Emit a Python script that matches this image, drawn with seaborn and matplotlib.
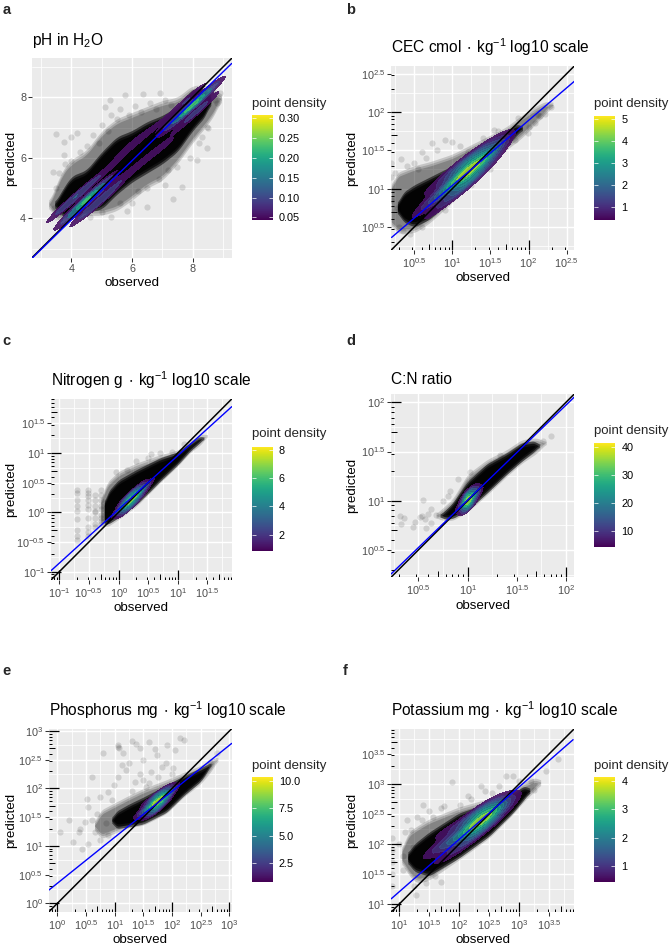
import numpy as np
import pandas as pd
import matplotlib
matplotlib.use("Agg")
import matplotlib.pyplot as plt
from matplotlib.colors import ListedColormap
import seaborn as sns

W, H = 671, 947

# ---- panel a: pH
a_band_x = [3.25, 3.5, 3.7, 4.0, 4.5, 5.0, 5.5, 6.0, 6.5, 7.0, 7.5, 8.0, 8.5, 8.8, 8.95]
a_band_lo = [4.4, 3.95, 3.9, 3.95, 4.1, 4.1, 4.25, 4.6, 5.0, 5.25, 5.8, 6.5, 7.1, 7.55, 7.95]
a_band_hi = [4.5, 5.1, 5.6, 5.95, 6.25, 6.9, 7.3, 7.5, 7.7, 7.9, 8.0, 8.4, 8.4, 8.25, 8.05]
a_dense_x = [3.45, 3.7, 4.0, 4.5, 5.0, 5.5, 6.0, 6.5, 7.0, 7.5, 8.0, 8.45, 8.6]
a_dense_lo = [4.4, 4.05, 4.0, 4.2, 4.3, 4.8, 5.2, 5.5, 5.8, 6.2, 6.9, 7.4, 7.85]
a_dense_hi = [4.5, 4.95, 5.4, 5.6, 6.2, 6.7, 6.9, 7.2, 7.4, 7.7, 8.3, 8.3, 8.0]
a_obs = [3.48, 3.74, 3.99, 4.2, 3.38, 3.76, 3.41, 3.5, 5.27, 5.77, 5.11, 6.37, 6.92, 7.36, 5.82, 6.48, 8.46, 8.13,
         7.64, 7.09, 8.9, 8.74, 8.79, 8.46, 8.3, 4.3, 4.5, 4.7, 4.9, 5.0, 5.2, 5.3, 5.5, 5.6, 5.9, 6.1, 6.3, 6.6,
         6.8, 7.1, 7.3, 3.6, 3.8, 4.0, 3.5, 4.6, 5.0, 5.3, 5.6, 6.0, 6.2, 6.5, 6.9, 7.2, 7.5, 7.9, 8.2, 8.5]
a_pred = [6.78, 6.53, 6.7, 6.81, 5.53, 6.09, 4.33, 4.05, 7.91, 8.08, 7.67, 8.1, 8.13, 4.64, 4.25, 4.39, 6.31, 5.93,
          5.05, 5.1, 8.13, 7.91, 7.8, 7.03, 6.7, 6.2, 6.4, 6.75, 6.5, 7.1, 6.9, 7.4, 7.3, 7.6, 7.4, 7.7, 7.5, 7.8,
          7.6, 7.9, 7.75, 5.5, 5.8, 5.9, 5.0, 4.05, 4.2, 4.05, 4.5, 4.5, 4.9, 5.0, 5.3, 5.6, 5.7, 6.0, 6.5, 7.0]
a_core_x = [3.9, 4.3, 4.3, 4.7, 4.7, 5.0, 4.5, 5.3, 5.3, 5.9, 5.9, 6.5, 6.5, 7.1, 7.1, 7.5, 7.8, 8.0, 8.2, 8.0, 7.75, 8.3]
a_core_y = [4.5, 4.35, 4.85, 4.4, 4.85, 4.6, 4.6, 5.7, 5.1, 6.4, 5.5, 6.8, 6.0, 7.1, 6.4, 7.2, 7.9, 7.75, 7.9, 7.4, 7.55, 7.7]
a_core_w = [8, 9, 9, 9, 9, 7, 24, 4, 3, 4, 4, 4, 4, 3, 3, 4, 7, 26, 6, 6, 6, 4]
a_fit_x = [2.7, 9.29]
a_fit_y = [2.68, 9.12]

# ---- panel b: CEC
b_band_x = [0.2, 0.25, 0.5, 0.7, 1.0, 1.3, 1.5, 1.7, 1.9, 2.1, 2.25, 2.32]
b_band_lo = [0.55, 0.42, 0.42, 0.55, 0.82, 1.1, 1.28, 1.5, 1.65, 1.85, 2.0, 2.08]
b_band_hi = [1.0, 1.2, 1.3, 1.35, 1.45, 1.6, 1.7, 1.8, 1.95, 2.08, 2.15, 2.12]
b_dense_x = [0.28, 0.35, 0.5, 0.7, 1.0, 1.3, 1.5, 1.7, 1.85, 1.92]
b_dense_lo = [0.7, 0.57, 0.5, 0.6, 0.85, 1.13, 1.33, 1.55, 1.7, 1.77]
b_dense_hi = [0.8, 0.95, 1.05, 1.15, 1.3, 1.5, 1.65, 1.75, 1.85, 1.81]
b_obs = [0.33, 0.6, 0.9, 1.55, 1.0, 0.73, 0.2, 0.2, 0.2, 0.45, 2.3, 2.21, 2.08, 1.86, 2.12, 1.99, 1.82,
         0.25, 0.3, 0.4, 0.5, 0.55, 0.65, 0.8, 1.1, 1.2, 1.4, 1.6, 0.28, 0.35, 0.6, 0.9, 1.25, 1.5, 2.0, 2.15]
b_pred = [1.39, 1.48, 1.63, 1.77, 1.61, 1.59, 1.33, 1.15, 0.85, 0.41, 2.07, 1.98, 1.85, 1.92, 1.96, 1.72, 1.63,
          1.2, 0.5, 1.3, 1.33, 1.25, 1.4, 1.5, 1.55, 1.48, 1.66, 1.75, 0.75, 0.45, 0.5, 0.72, 1.05, 1.25, 1.8, 1.95]
b_core_x = [0.55, 0.55, 0.55, 0.75, 0.75, 0.75, 0.95, 0.95, 0.95, 1.15, 1.15, 1.15, 1.3, 1.3, 1.3, 1.5, 1.5, 1.5, 1.68, 1.68, 1.68]
b_core_y = [0.53, 0.7, 0.87, 0.69, 0.86, 1.03, 0.87, 1.03, 1.19, 1.04, 1.18, 1.32, 1.17, 1.3, 1.43, 1.35, 1.46, 1.57, 1.53, 1.62, 1.71]
b_core_w = [1, 2, 1, 1.5, 3, 1.5, 3, 6, 3, 5, 10, 5, 4.5, 9, 4.5, 2.5, 5, 2.5, 1, 2, 1]
b_fit_x = [0.204, 2.6]
b_fit_y = [0.364, 2.4]

# ---- panel c: Nitrogen
c_band_x = [-0.3, -0.2, 0.0, 0.3, 0.5, 0.7, 1.0, 1.2, 1.4, 1.5]
c_band_lo = [-0.2, -0.25, -0.12, 0.1, 0.3, 0.5, 0.78, 1.0, 1.15, 1.29]
c_band_hi = [0.2, 0.5, 0.69, 0.83, 0.9, 0.97, 1.05, 1.2, 1.32, 1.31]
c_dense_x = [-0.24, -0.18, 0.0, 0.3, 0.5, 0.7, 1.0, 1.2, 1.38, 1.44]
c_dense_lo = [-0.2, -0.2, -0.09, 0.13, 0.32, 0.52, 0.8, 1.02, 1.18, 1.24]
c_dense_hi = [0.15, 0.35, 0.55, 0.72, 0.82, 0.92, 1.02, 1.17, 1.29, 1.26]
c_obs = [-0.7, -0.7, -0.7, -0.7, -0.7, -0.7, -0.7, -0.7, -0.7, -0.52, -0.52, -0.52, -0.52, -0.52, -0.52, -0.52, -0.52,
         -0.52, -0.52, -0.39, -0.39, -0.39, -0.39, -0.39, -0.39, -0.39, -0.39, -0.3, -0.3, -0.3, -0.3, -0.3, -0.3,
         -0.3, -0.3, -0.3, 0.15, 0.3, 0.55, 0.7, 0.9, 0.5, -0.05, 1.1]
c_pred = [-0.47, -0.4, -0.3, -0.12, 0.03, 0.1, 0.2, 0.33, 0.37, -0.4, -0.33, -0.25, -0.1, 0.05, 0.13, 0.2, 0.27,
          0.33, 0.37, -0.25, -0.2, -0.1, 0.0, 0.03, 0.1, 0.2, 0.3, -0.2, -0.15, -0.1, -0.05, 0.05, 0.1, 0.2, 0.3,
          0.38, 0.72, 0.87, 0.98, 1.0, 1.02, 0.92, 0.68, 1.15]
c_core_x = [-0.1, -0.1, -0.1, 0.05, 0.05, 0.05, 0.2, 0.2, 0.2, 0.35, 0.35, 0.35, 0.5, 0.5, 0.5, 0.65, 0.65, 0.65]
c_core_y = [-0.16, -0.07, 0.02, -0.03, 0.07, 0.17, 0.1, 0.2, 0.3, 0.24, 0.34, 0.44, 0.38, 0.47, 0.56, 0.52, 0.6, 0.68]
c_core_w = [0.7, 1.5, 0.7, 2.5, 5, 2.5, 5, 10, 5, 3, 6, 3, 1.2, 2.5, 1.2, 0.5, 1, 0.5]
c_fit_x = [-1.14, 1.91]
c_fit_y = [-0.983, 1.78]

# ---- panel d: C:N ratio
d_band_x = [0.68, 0.74, 0.85, 1.0, 1.2, 1.4, 1.55, 1.7, 1.8]
d_band_lo = [0.83, 0.8, 0.8, 0.885, 1.06, 1.25, 1.38, 1.48, 1.58]
d_band_hi = [0.87, 0.92, 1.02, 1.27, 1.42, 1.52, 1.62, 1.64, 1.6]
d_dense_x = [0.72, 0.77, 0.85, 1.0, 1.2, 1.4, 1.55, 1.68, 1.73]
d_dense_lo = [0.84, 0.81, 0.82, 0.9, 1.08, 1.27, 1.4, 1.5, 1.55]
d_dense_hi = [0.86, 0.9, 0.98, 1.2, 1.38, 1.49, 1.59, 1.61, 1.57]
d_obs = [0.55, 0.63, 0.82, 0.31, 0.35, 0.32, 0.45, 0.47, 0.52, 0.57, 0.58, 0.63, 0.54, 0.6, 1.85, 1.77, 0.9, 1.02, 1.33, 0.68, 0.75, 0.8]
d_pred = [1.01, 0.92, 1.1, 0.84, 0.82, 0.76, 0.73, 0.78, 0.83, 0.81, 0.72, 0.77, 0.85, 0.87, 1.66, 1.61, 1.22, 1.29, 1.46, 0.86, 1.0, 1.05]
d_core_x = [0.9, 0.9, 0.9, 1.0, 1.0, 1.0, 1.08, 1.08, 1.08, 1.17, 1.17, 1.17]
d_core_y = [0.84, 0.91, 0.98, 0.93, 1.0, 1.07, 1.0, 1.07, 1.14, 1.08, 1.14, 1.2]
d_core_w = [1, 2, 1, 5, 10, 5, 2, 4, 2, 0.5, 1, 0.5]
d_fit_x = [0.222, 2.085]
d_fit_y = [0.255, 2.054]

# ---- panel e: Phosphorus
e_band_x = [0.65, 0.75, 1.0, 1.25, 1.5, 1.9, 2.2, 2.5, 2.7, 2.8]
e_band_lo = [1.3, 1.12, 1.22, 1.32, 1.36, 1.56, 1.85, 2.08, 2.32, 2.5]
e_band_hi = [1.4, 1.62, 1.75, 1.88, 2.0, 2.15, 2.28, 2.4, 2.52, 2.55]
e_dense_x = [0.95, 1.02, 1.25, 1.5, 1.9, 2.2, 2.5, 2.62, 2.68]
e_dense_lo = [1.42, 1.3, 1.33, 1.38, 1.58, 1.87, 2.12, 2.3, 2.42]
e_dense_hi = [1.48, 1.6, 1.73, 1.85, 2.06, 2.22, 2.36, 2.42, 2.45]
e_obs = [1.06, 1.06, 1.07, 1.3, 1.38, 1.59, 2.14, 2.2, 0.8, 0.6, 1.15, 1.5, 1.73, 1.91, 2.05, 1.12, 1.44, 1.64, 1.82,
         2.02, 0.98, 0.89, 0.52, 0.74, 0.54, 0.21, 0.05, 0.27, 0.43, 0.54, 0.37, 0.48, 0.66, 0.74, 0.88, 2.78, 2.66,
         1.55, 1.06, 1.35, 1.25, 1.45, 1.7, 1.9, 1.2, 1.5, 1.75, 0.6, 0.7, 0.85, 0.95, 0.4, 1.3, 1.6, 2.0]
e_pred = [2.73, 2.76, 2.71, 2.83, 2.78, 2.81, 2.88, 2.85, 2.61, 2.2, 2.61, 2.49, 2.58, 2.75, 2.67, 2.41, 2.26, 2.29, 2.38,
          2.35, 2.06, 1.94, 1.81, 1.85, 1.68, 1.45, 1.25, 1.07, 0.94, 1.04, 1.25, 1.42, 1.25, 1.1, 1.19, 2.61, 2.46,
          2.03, 2.2, 2.12, 2.45, 2.7, 2.68, 2.45, 2.32, 2.15, 2.2, 1.45, 1.55, 1.4, 1.8, 1.3, 1.95, 2.1, 2.25]
e_core_x = [1.3, 1.3, 1.3, 1.5, 1.5, 1.5, 1.7, 1.7, 1.7, 1.85, 1.85, 1.85, 2.0, 2.0, 2.0, 2.15, 2.15, 2.15]
e_core_y = [1.35, 1.47, 1.59, 1.48, 1.6, 1.72, 1.61, 1.73, 1.85, 1.74, 1.85, 1.96, 1.87, 1.97, 2.07, 2.02, 2.1, 2.18]
e_core_w = [0.7, 1.5, 0.7, 2, 4, 2, 5, 10, 5, 3.5, 7, 3.5, 1.2, 2.5, 1.2, 0.5, 1, 0.5]
e_fit_x = [-0.145, 3.04]
e_fit_y = [0.233, 2.784]

# ---- panel f: Potassium
f_band_x = [1.05, 1.15, 1.3, 1.5, 2.0, 2.5, 2.9, 3.1, 3.3, 3.36]
f_band_lo = [1.7, 1.5, 1.35, 1.4, 1.74, 2.1, 2.5, 2.73, 2.92, 3.0]
f_band_hi = [1.9, 2.2, 2.3, 2.42, 2.62, 2.76, 2.92, 3.04, 3.12, 3.05]
f_dense_x = [1.15, 1.25, 1.5, 2.0, 2.5, 2.9, 3.1, 3.18]
f_dense_lo = [1.7, 1.55, 1.47, 1.77, 2.13, 2.52, 2.76, 2.87]
f_dense_hi = [1.85, 2.0, 2.2, 2.52, 2.69, 2.85, 2.98, 2.92]
f_obs = [1.88, 1.4, 2.15, 2.37, 2.67, 2.78, 2.9, 3.65, 3.45, 3.2, 1.76, 2.01, 2.43, 1.13, 1.38, 1.57, 1.07, 1.07, 1.24,
         1.2, 0.88, 0.88, 0.88, 0.88, 0.88, 1.71, 1.6, 1.29, 3.25, 3.0, 3.12, 1.0, 1.1, 1.3, 1.5, 1.7, 2.2, 2.55, 1.25, 1.45]
f_pred = [3.03, 2.66, 2.81, 2.96, 2.97, 3.14, 3.14, 3.42, 3.21, 3.05, 2.64, 2.66, 2.88, 2.41, 2.41, 2.46, 1.8, 1.58, 1.96,
          2.24, 2.1, 1.9, 1.7, 1.5, 1.3, 1.38, 1.47, 1.16, 2.9, 3.05, 2.85, 2.0, 2.2, 2.45, 2.55, 2.6, 2.75, 2.85, 1.3, 1.35]
f_core_x = [1.5, 1.5, 1.5, 1.75, 1.75, 1.75, 2.0, 2.0, 2.0, 2.3, 2.3, 2.3, 2.5, 2.5, 2.5, 2.7, 2.7, 2.7, 2.9, 2.9, 2.9]
f_core_y = [1.63, 1.85, 2.07, 1.79, 2.0, 2.21, 1.93, 2.12, 2.31, 2.19, 2.35, 2.51, 2.36, 2.5, 2.64, 2.5, 2.62, 2.74, 2.66, 2.75, 2.84]
f_core_w = [0.7, 1.5, 0.7, 1.5, 3, 1.5, 2.5, 5, 2.5, 5, 10, 5, 3, 6, 3, 1.2, 2.5, 1.2, 0.5, 1, 0.5]
f_fit_x = [0.873, 3.9]
f_fit_y = [1.094, 3.738]

sns.set_theme(style="darkgrid", rc={
    "axes.facecolor": "#EBEBEB",
    "grid.color": "white",
    "axes.linewidth": 0,
    "mathtext.default": "regular",
})
plt.rcParams["font.family"] = ["Liberation Sans", "DejaVu Sans"]

fig = plt.figure(figsize=(W / 100, H / 100), dpi=100)


def add_px_axes(left, right, top, bottom):
    return fig.add_axes([left / W, 1 - bottom / H, (right - left) / W, (bottom - top) / H])


def log_marks(ax, lo, hi):
    # annotation_logticks look: long at 10^k, medium at 5*10^k, short otherwise
    for k in range(int(np.floor(lo)) - 1, int(np.ceil(hi)) + 1):
        for m in range(1, 10):
            p = k + np.log10(m)
            if p < lo or p > hi:
                continue
            size = 0.055 if m == 1 else 0.033 if m == 5 else 0.016
            lw = 0.9 if m == 1 else 0.7
            ax.vlines(p, 0, size, color="black", lw=lw, transform=ax.get_xaxis_transform(), zorder=6)
            ax.hlines(p, 0, size, color="black", lw=lw, transform=ax.get_yaxis_transform(), zorder=6)


def soft_fill(ax, env, edge, alphas):
    # read envelope rounded off, drawn in stacked layers so the rim of the cloud fades
    xs = np.linspace(env[0][0], env[0][-1], 240)
    kernel = np.ones(15) / 15
    lo = np.convolve(np.pad(np.interp(xs, env[0], env[1]), 7, mode="edge"), kernel, mode="valid")
    hi = np.convolve(np.pad(np.interp(xs, env[0], env[2]), 7, mode="edge"), kernel, mode="valid")
    for i, a in enumerate(alphas):
        low = lo + i * edge
        high = hi - i * edge
        ax.fill_between(xs, low, high, where=high > low, color="black", alpha=a, lw=0, zorder=2)


def draw_panel(box, lims, ticks, log, band, dense, obs, pred, core, fit, title, pad, ylab_off, xlab_off,
               top_col, n_bands, thresh, bw, kde_levels=None):
    ax = add_px_axes(*box)

    # black cloud of points
    edge = (lims[1] - lims[0]) * 0.012
    soft_fill(ax, band, edge, [0.16, 0.16, 0.2])
    soft_fill(ax, dense, edge, [0.55, 0.7, 0.8])
    sns.scatterplot(x=obs, y=pred, color="black", alpha=0.12, s=20, linewidth=0, ax=ax, zorder=3)

    cols = ListedColormap(plt.cm.viridis(np.linspace(0.0, top_col, 256)))
    levels = kde_levels if kde_levels is not None else n_bands + 1
    core_df = pd.DataFrame({"obs": core[0], "pred": core[1], "w": core[2]})
    sns.kdeplot(data=core_df, x="obs", y="pred", weights="w", fill=True, levels=levels, thresh=thresh,
                bw_method=bw, cmap=cols, alpha=0.9, gridsize=220, cut=4, ax=ax, zorder=4)

    sns.lineplot(x=list(lims), y=list(lims), color="black", lw=1.1, ax=ax, zorder=5)
    sns.lineplot(x=fit[0], y=fit[1], color="#0000FF", lw=1.0, ax=ax, zorder=5)
    ax.set_xlim(*lims)
    ax.set_ylim(*lims)
    ax.set_xticks(ticks)
    ax.set_yticks(ticks)
    step = ticks[1] - ticks[0]
    minor = np.arange(ticks[0] - step / 2, lims[1], step)
    minor = minor[minor > lims[0]]
    ax.set_xticks(minor, minor=True)
    ax.set_yticks(minor, minor=True)
    if log:
        labels = ["$10^{%g}$" % t for t in ticks]
        ax.set_xticklabels(labels)
        ax.set_yticklabels(labels)
        log_marks(ax, *lims)
    else:
        ax.set_xticklabels(["%g" % t for t in ticks])
        ax.set_yticklabels(["%g" % t for t in ticks])
    ax.grid(True, which="major", color="white", lw=1.05)
    ax.grid(True, which="minor", color="white", lw=0.55)
    ax.set_axisbelow(True)
    ax.tick_params(which="major", length=2.6, width=0.75, color="#333333", labelcolor="#4D4D4D",
                   labelsize=7.8, pad=1.6, bottom=True, left=True)
    ax.tick_params(which="minor", length=0)
    ax.set_xlabel("observed", fontsize=9.6, color="black", va="center")
    ax.set_ylabel("predicted", fontsize=9.6, color="black", va="center")
    ax.xaxis.set_label_coords(0.5, -xlab_off / (box[3] - box[2]))
    ax.yaxis.set_label_coords(-ylab_off / (box[1] - box[0]), 0.5)
    ax.set_title(title, loc="left", fontsize=11.2, pad=pad, color="black")
    return ax


def draw_scale(box, vmin, vmax, ticks, labels, title_y):
    cax = add_px_axes(*box)
    sm = plt.cm.ScalarMappable(norm=plt.Normalize(vmin, vmax), cmap="viridis")
    cb = fig.colorbar(sm, cax=cax)
    cb.outline.set_visible(False)
    cb.set_ticks(ticks)
    cb.set_ticklabels(labels)
    cax.tick_params(length=0, labelsize=7.8, pad=4.5, labelcolor="black")
    cax.grid(False)
    for t in ticks:
        cax.hlines(t, 0, 0.2, color="white", lw=0.5, transform=cax.get_yaxis_transform())
        cax.hlines(t, 0.8, 1, color="white", lw=0.5, transform=cax.get_yaxis_transform())
    fig.text(box[0] / W, 1 - title_y / H, "point density", fontsize=9.5, va="center", ha="left")


draw_panel((32, 231.7, 58.3, 257.7), (2.7, 9.29), [4, 6, 8], False,
           (a_band_x, a_band_lo, a_band_hi), (a_dense_x, a_dense_lo, a_dense_hi), a_obs, a_pred,
           (a_core_x, a_core_y, a_core_w), (a_fit_x, a_fit_y),
           "pH in H$_2$O", 9.5, 21, 25.6, 0.75, 5, 0.12, 0.28, [0.12, 0.42, 0.7, 0.86, 0.95, 1])
draw_scale((252.3, 272.7, 115, 220), 0.0433, 0.3084, [0.05, 0.1, 0.15, 0.2, 0.25, 0.3],
           ["0.05", "0.10", "0.15", "0.20", "0.25", "0.30"], 103.5)

draw_panel((391.3, 574.3, 66, 250), (0.2, 2.6), [0.5, 1, 1.5, 2, 2.5], True,
           (b_band_x, b_band_lo, b_band_hi), (b_dense_x, b_dense_lo, b_dense_hi), b_obs, b_pred,
           (b_core_x, b_core_y, b_core_w), (b_fit_x, b_fit_y),
           r"CEC cmol$\,\cdot\,$kg$^{-1}$ log10 scale", 9.5, 39, 28, 0.95, 9, 0.12, 0.58)
draw_scale((594.3, 615, 116, 220), 0.407, 5.15, [1, 2, 3, 4, 5], ["1", "2", "3", "4", "5"], 104)

draw_panel((51, 231.7, 399, 580), (-1.14, 1.91), [-1, -0.5, 0, 0.5, 1, 1.5], True,
           (c_band_x, c_band_lo, c_band_hi), (c_dense_x, c_dense_lo, c_dense_hi), c_obs, c_pred,
           (c_core_x, c_core_y, c_core_w), (c_fit_x, c_fit_y),
           r"Nitrogen g$\,\cdot\,$kg$^{-1}$ log10 scale", 9.5, 40, 28, 0.92, 8, 0.2, 0.58)
draw_scale((252.3, 272.7, 446.7, 551), 0.85, 8.2, [2, 4, 6, 8], ["2", "4", "6", "8"], 434)

draw_panel((391, 574.3, 394, 577.3), (0.222, 2.085), [0.5, 1, 1.5, 2], True,
           (d_band_x, d_band_lo, d_band_hi), (d_dense_x, d_dense_lo, d_dense_hi), d_obs, d_pred,
           (d_core_x, d_core_y, d_core_w), (d_fit_x, d_fit_y),
           "C:N ratio", 7.2, 39, 29, 0.92, 7, 0.2, 0.65)
draw_scale((594.3, 615, 442.7, 547), 4.3, 41.4, [10, 20, 30, 40], ["10", "20", "30", "40"], 431)

draw_panel((48.7, 231.7, 728.7, 912), (-0.15, 3.04), [0, 0.5, 1, 1.5, 2, 2.5, 3], True,
           (e_band_x, e_band_lo, e_band_hi), (e_dense_x, e_dense_lo, e_dense_hi), e_obs, e_pred,
           (e_core_x, e_core_y, e_core_w), (e_fit_x, e_fit_y),
           r"Phosphorus mg$\,\cdot\,$kg$^{-1}$ log10 scale", 9.5, 37.7, 28, 0.95, 9, 0.2, 0.58)
draw_scale((252.3, 272.7, 777.3, 881.7), 0.84, 10.3, [2.5, 5, 7.5, 10], ["2.5", "5.0", "7.5", "10.0"], 765.7)

draw_panel((391.3, 574.3, 728.7, 912), (0.875, 3.92), [1, 1.5, 2, 2.5, 3, 3.5], True,
           (f_band_x, f_band_lo, f_band_hi), (f_dense_x, f_dense_lo, f_dense_hi), f_obs, f_pred,
           (f_core_x, f_core_y, f_core_w), (f_fit_x, f_fit_y),
           r"Potassium mg$\,\cdot\,$kg$^{-1}$ log10 scale", 9.5, 39, 28, 0.92, 8, 0.12, 0.58)
draw_scale((594.3, 615, 777.3, 881.7), 0.45, 4.12, [1, 2, 3, 4], ["1", "2", "3", "4"], 765.7)

for letter, lx, ly in [("a", 2.5, 10), ("b", 346, 10), ("c", 2.5, 341), ("d", 346, 341),
                       ("e", 2.5, 671), ("f", 343, 671)]:
    fig.text(lx / W, 1 - ly / H, letter, fontsize=10.5, fontweight="bold", va="center", ha="left")

fig.savefig("out.png", dpi=100)
